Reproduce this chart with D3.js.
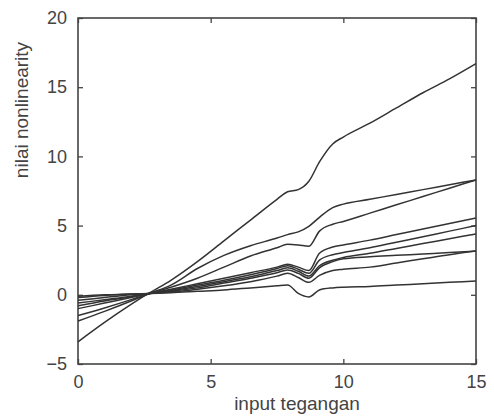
<!DOCTYPE html>
<html lang="en">
<head>
<meta charset="UTF-8">
<title>nilai nonlinearity</title>
<style>
  body { margin: 0; background: #fff; }
  text { font-family: "Liberation Sans", Arial, sans-serif; fill: #444; }
</style>
</head>
<body>
<div id="chart"></div>
<script src="https://d3js.org/d3.v7.min.js"></script>
<script>

// data
const xs = [0, 1, 2, 2.7, 3.5, 4.5, 5.5, 6.5, 7.5, 7.9, 8.3, 8.7, 9.1, 9.6, 10, 11, 12, 13, 14, 15];

const line1 = [-3.4, -2.0, -0.7, 0.15, 1.05, 2.4, 3.9, 5.4, 6.9, 7.45, 7.6, 8.2, 9.6, 10.9, 11.4, 12.4, 13.5, 14.6, 15.6, 16.7];
const line2 = [-1.9, -1.2, -0.45, 0.1, 0.7, 1.9, 2.85, 3.55, 4.1, 4.35, 4.55, 4.95, 5.6, 6.3, 6.55, 6.9, 7.25, 7.6, 7.95, 8.3];
const line3 = [-1.5, -0.95, -0.35, 0.1, 0.55, 1.2, 2.0, 2.8, 3.4, 3.65, 3.6, 3.5, 4.6, 5.1, 5.3, 5.9, 6.5, 7.1, 7.7, 8.3];
const line4 = [-1.0, -0.6, -0.2, 0.1, 0.4, 0.8, 1.2, 1.6, 2.0, 2.2, 2.0, 1.75, 3.0, 3.45, 3.6, 3.95, 4.35, 4.75, 5.15, 5.55];
const line5 = [-0.8, -0.45, -0.15, 0.1, 0.35, 0.7, 1.05, 1.45, 1.9, 2.1, 1.85, 1.55, 2.5, 2.9, 3.05, 3.4, 3.8, 4.2, 4.6, 5.0];
const line6 = [-0.6, -0.35, -0.1, 0.1, 0.3, 0.6, 0.95, 1.3, 1.75, 1.95, 1.7, 1.35, 2.1, 2.5, 2.7, 3.0, 3.35, 3.7, 4.05, 4.4];
const line7 = [-0.4, -0.2, 0.0, 0.1, 0.25, 0.5, 0.85, 1.2, 1.6, 1.8, 1.55, 1.2, 1.95, 2.4, 2.6, 2.75, 2.85, 2.95, 3.05, 3.16];
const line8 = [-0.2, -0.05, 0.05, 0.1, 0.2, 0.4, 0.65, 0.95, 1.35, 1.55, 1.25, 0.9, 1.4, 1.75, 1.85, 2.0, 2.3, 2.6, 2.9, 3.16];
const line9 = [-0.1, 0.0, 0.05, 0.1, 0.15, 0.25, 0.35, 0.5, 0.65, 0.7, 0.1, -0.15, 0.35, 0.5, 0.55, 0.6, 0.7, 0.8, 0.9, 1.0];

const allLines = [line1, line2, line3, line4, line5, line6, line7, line8, line9];

const xTicks = [0, 5, 10, 15];
const yTicks = [-5, 0, 5, 10, 15, 20];

// set up the page
const W = 494, H = 417;
const margin = {top: 18, right: 18, bottom: 53, left: 78},
    width = 476 - margin.left,
    height = 364 - margin.top;

const svg = d3.select("#chart")
    .append("svg").attr("width", W).attr("height", H)
    .append("g")
    .attr("transform", `translate(${margin.left}, ${margin.top})`);

const x = d3.scaleLinear().domain([0, 15]).range([0, width]);
const y = d3.scaleLinear().domain([-5, 20]).range([height, 0]);

// axes (ticks inward on all four sides)
const axisStyle = g => {
    g.select(".domain").remove();
    g.selectAll(".tick line").attr("stroke", "#444").attr("stroke-width", 1.3);
    g.selectAll(".tick text").attr("font-size", "18px").attr("fill", "#444")
        .attr("font-family", "Liberation Sans, Arial, sans-serif");
};

svg.append("g")
    .attr("transform", `translate(0, ${height})`)
    .call(d3.axisBottom(x).tickValues(xTicks).tickSize(-5).tickPadding(11))
    .call(axisStyle);

svg.append("g")
    .call(d3.axisTop(x).tickValues(xTicks).tickSize(-5).tickFormat(""))
    .call(axisStyle);

svg.append("g")
    .call(d3.axisLeft(y).tickValues(yTicks).tickSize(-5).tickPadding(11))
    .call(axisStyle);

svg.append("g")
    .attr("transform", `translate(${width}, 0)`)
    .call(d3.axisRight(y).tickValues(yTicks).tickSize(-5).tickFormat(""))
    .call(axisStyle);

// frame
svg.append("rect")
    .attr("x", 0).attr("y", 0)
    .attr("width", width).attr("height", height)
    .attr("fill", "none")
    .attr("stroke", "#444")
    .attr("stroke-width", 1.6);

// lines
const line = d3.line()
    .x((d, i) => x(xs[i]))
    .y(d => y(d))
    .curve(d3.curveMonotoneX);

svg.append("g")
    .selectAll("path")
    .data(allLines)
    .join("path")
    .attr("d", line)
    .attr("fill", "none")
    .attr("stroke", "#333")
    .attr("stroke-width", 1.5);

// axis labels
svg.append("text")
    .attr("x", 219)
    .attr("y", height + 46)
    .attr("text-anchor", "middle")
    .style("font-size", "19px")
    .text("input tegangan");

svg.append("text")
    .attr("transform", "rotate(-90)")
    .attr("x", -92)
    .attr("y", -50)
    .attr("text-anchor", "middle")
    .style("font-size", "19px")
    .text("nilai nonlinearity");

</script>
</body>
</html>
